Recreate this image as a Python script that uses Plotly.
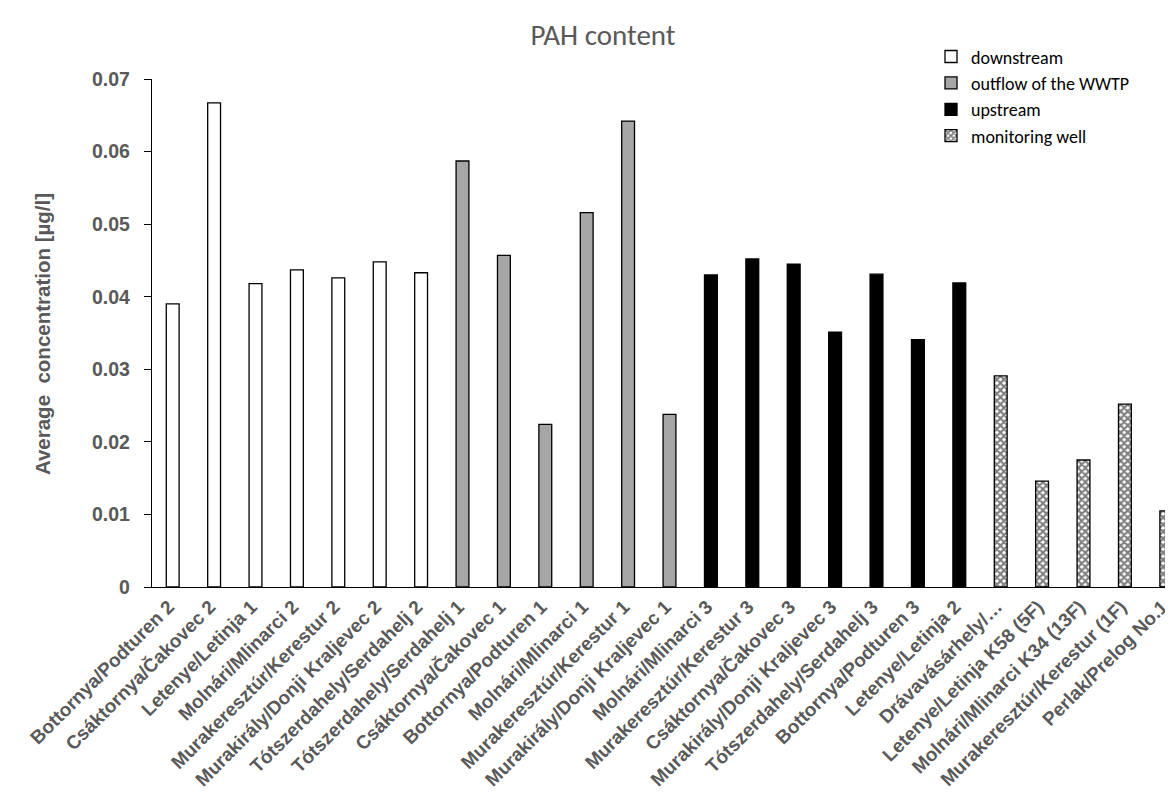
import plotly.graph_objects as go

downstream_cats = ["Bottornya/Podturen 2", "Csáktornya/Čakovec 2", "Letenye/Letinja 1",
                   "Molnári/Mlinarci 2", "Murakeresztúr/Kerestur 2",
                   "Murakirály/Donji Kraljevec 2", "Tótszerdahely/Serdahelj 2"]
downstream_vals = [0.0390, 0.0667, 0.0418, 0.0437, 0.0426, 0.0448, 0.0433]

outflow_cats = ["Tótszerdahely/Serdahelj 1", "Csáktornya/Čakovec 1", "Bottornya/Podturen 1",
                "Molnári/Mlinarci 1", "Murakeresztúr/Kerestur 1", "Murakirály/Donji Kraljevec 1"]
outflow_vals = [0.0587, 0.0457, 0.0224, 0.0516, 0.0642, 0.0238]

upstream_cats = ["Molnári/Mlinarci 3", "Murakeresztúr/Kerestur 3", "Csáktornya/Čakovec 3",
                 "Murakirály/Donji Kraljevec 3", "Tótszerdahely/Serdahelj 3",
                 "Bottornya/Podturen 3", "Letenye/Letinja 2"]
upstream_vals = [0.0430, 0.0452, 0.0445, 0.0351, 0.0431, 0.0341, 0.0419]

well_cats = ["Drávavásárhely/…", "Letenye/Letinja K58 (5F)", "Molnári/Mlinarci K34 (13F)",
             "Murakeresztúr/Kerestur (1F)", "Perlak/Prelog No.1"]
well_vals = [0.0291, 0.0146, 0.0175, 0.0252, 0.0105]

all_cats = downstream_cats + outflow_cats + upstream_cats + well_cats

W, H = 1173, 803
L, R, T, B = 144, 0, 70.7, 224.3
plot_w = W - L - R
plot_h = H - T - B
cat_px = 41.4

fig = go.Figure()
line = dict(color="black", width=1.3)
fig.add_bar(x=downstream_cats, y=downstream_vals, name="downstream", width=0.31,
            marker=dict(color="white", line=line))
fig.add_bar(x=outflow_cats, y=outflow_vals, name="outflow of the WWTP", width=0.31,
            marker=dict(color="#A6A6A6", line=line))
fig.add_bar(x=upstream_cats, y=upstream_vals, name="upstream", width=0.31,
            marker=dict(color="black", line=line))
fig.add_bar(x=well_cats, y=well_vals, name="monitoring well", width=0.31,
            marker=dict(color="white", line=line,
                        pattern=dict(shape="x", fgcolor="black", bgcolor="white",
                                     size=5, solidity=0.65)))

gray = "#595959"
fig.update_layout(
    width=W, height=H,
    margin=dict(l=L, r=R, t=T, b=B),
    barmode="overlay",
    paper_bgcolor="white", plot_bgcolor="white",
    title=dict(text="PAH content", x=595 / W, xanchor="center", xref="container",
               y=1 - 27 / H, yanchor="middle", yref="container",
               font=dict(family="Carlito, Lato", size=29, color=gray)),
    legend=dict(x=(923 - L) / plot_w, xanchor="left", y=(H - B - 30) / plot_h,
                yanchor="top", font=dict(family="Carlito, Lato", size=18, color="black"),
                bgcolor="rgba(0,0,0,0)", tracegroupgap=0),
    xaxis=dict(type="category", categoryorder="array", categoryarray=all_cats,
               range=[-0.5, -0.5 + plot_w / cat_px], showline=True, linecolor="black",
               linewidth=1.3, ticks="", tickangle=-45, ticklabelshift=-4,
               tickfont=dict(family="Liberation Sans", size=19, color=gray, weight="bold"),
               showgrid=False),
    yaxis=dict(range=[0, 0.07], dtick=0.01, showline=True, linecolor="black",
               linewidth=1.3, ticks="outside", ticklen=7, tickcolor="black",
               ticklabelstandoff=10,
               tickfont=dict(family="Liberation Sans", size=19.5, color=gray, weight="bold"),
               showgrid=False, zeroline=False),
    annotations=[dict(text="Average  concentration [µg/l]", textangle=-90,
                      xref="paper", yref="paper", x=(34 - L) / plot_w, y=(H - B - 325.8) / plot_h,
                      xanchor="center", yanchor="middle", showarrow=False,
                      font=dict(family="Liberation Sans", size=20.5, color=gray, weight="bold"))],
)

fig.write_html("out.html")
